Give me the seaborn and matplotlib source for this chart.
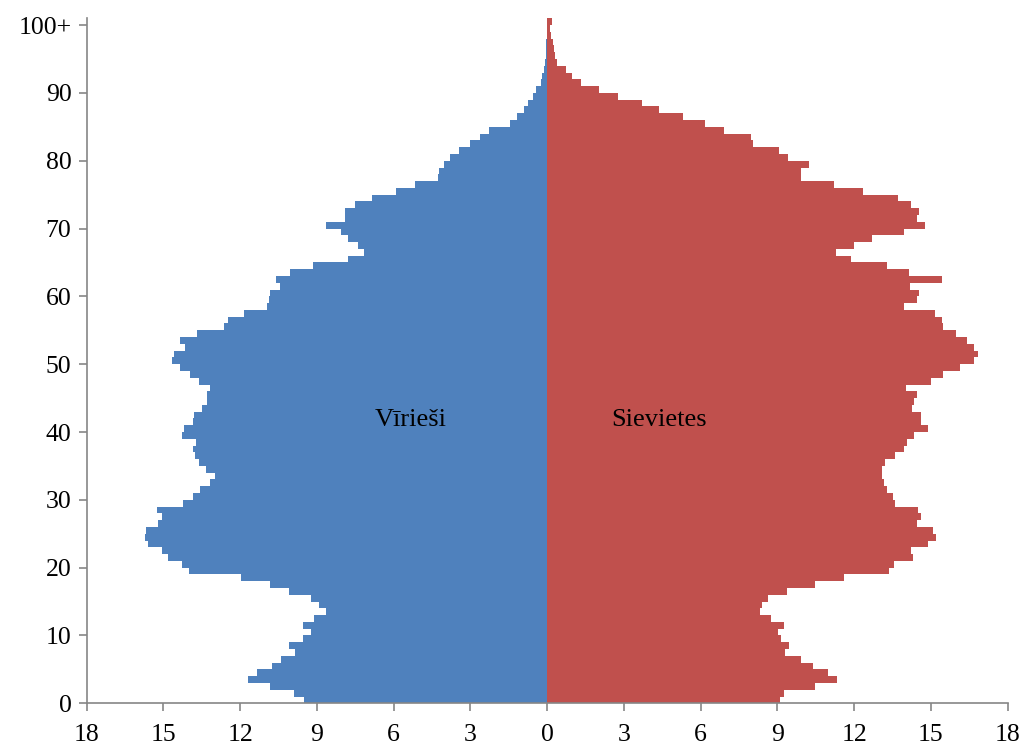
# IMPORT PACKAGES -----------------------------------------------------------------
import pandas as pd
import seaborn as sns
import matplotlib.pyplot as plt

# DATA ----------------------------------------------------------------------------
# age groups 0 .. 100+ (one bar per year of age)
ages = list(range(101))

# men (left side)
males = [9.52, 9.91, 10.83, 11.71, 11.35, 10.76, 10.40, 9.87, 10.08, 9.55,
         9.22, 9.53, 9.13, 8.65, 8.93, 9.23, 10.08, 10.85, 11.96, 13.99,
         14.28, 14.84, 15.06, 15.59, 15.72, 15.68, 15.20, 15.06, 15.26, 14.22,
         13.83, 13.56, 13.17, 13.00, 13.33, 13.63, 13.76, 13.85, 13.73, 14.26,
         14.18, 13.83, 13.79, 13.50, 13.30, 13.30, 13.20, 13.60, 13.96, 14.35,
         14.67, 14.60, 14.14, 14.35, 13.69, 12.62, 12.48, 11.87, 10.96, 10.89,
         10.82, 10.46, 10.59, 10.07, 9.16, 7.79, 7.16, 7.41, 7.79, 8.06,
         8.63, 7.92, 7.89, 7.50, 6.85, 5.92, 5.18, 4.27, 4.22, 4.04,
         3.81, 3.46, 3.00, 2.61, 2.26, 1.46, 1.20, 0.91, 0.74, 0.55,
         0.43, 0.26, 0.20, 0.13, 0.09, 0.05, 0.04, 0.03, 0.02, 0.01,
         0.01]

# women (right side)
females = [9.09, 9.26, 10.46, 11.31, 10.98, 10.39, 9.91, 9.28, 9.47, 9.15,
           9.02, 9.26, 8.74, 8.31, 8.41, 8.63, 9.39, 10.46, 11.60, 13.35,
           13.54, 14.28, 14.21, 14.87, 15.19, 15.10, 14.44, 14.60, 14.48, 13.59,
           13.50, 13.30, 13.17, 13.10, 13.10, 13.21, 13.60, 13.93, 14.08, 14.32,
           14.90, 14.60, 14.60, 14.25, 14.32, 14.45, 14.02, 15.02, 15.49, 16.13,
           16.69, 16.82, 16.69, 16.39, 15.99, 15.49, 15.45, 15.15, 13.93, 14.45,
           14.54, 14.20, 15.43, 14.14, 13.27, 11.89, 11.28, 12.00, 12.69, 13.95,
           14.75, 14.45, 14.55, 14.21, 13.73, 12.36, 11.21, 9.94, 9.94, 10.25,
           9.43, 9.08, 8.03, 7.97, 6.92, 6.17, 5.32, 4.37, 3.72, 2.76,
           2.03, 1.32, 0.95, 0.75, 0.39, 0.31, 0.27, 0.23, 0.14, 0.10,
           0.17]

x_ticks = [-18, -15, -12, -9, -6, -3, 0, 3, 6, 9, 12, 15, 18]
x_tick_labels = ["18", "15", "12", "9", "6", "3", "0", "3", "6", "9", "12", "15", "18"]
y_ticks = [0, 10, 20, 30, 40, 50, 60, 70, 80, 90, 100]
y_tick_labels = ["0", "10", "20", "30", "40", "50", "60", "70", "80", "90", "100+"]

# long table for seaborn: men negative, women positive
# each bar covers [age, age + 1] on the vertical axis
men = pd.DataFrame({"pos": [a + 0.5 for a in ages],
                    "value": [-v for v in males],
                    "sex": "Vīrieši"})
women = pd.DataFrame({"pos": [a + 0.5 for a in ages],
                      "value": females,
                      "sex": "Sievietes"})
pyramid = pd.concat([men, women], ignore_index=True)

# PLOT ----------------------------------------------------------------------------
sns.set_style("ticks")
plt.rcParams['font.family'] = ['Liberation Serif', 'DejaVu Serif']

fig = plt.figure(figsize=(10.19, 7.47), dpi=100)
ax = fig.add_axes([0.0851, 0.0585, 0.9038, 0.917])

sns.barplot(data=pyramid, x="value", y="pos", hue="sex", orient="h",
            native_scale=True, width=1, dodge=False, errorbar=None,
            palette={"Vīrieši": "#4F81BD", "Sievietes": "#C0504D"},
            saturation=1, linewidth=0, legend=False, ax=ax)

ax.set_xlim(-18, 18)
ax.set_ylim(0, 101)
ax.set_xticks(x_ticks)
ax.set_xticklabels(x_tick_labels)
ax.set_yticks(y_ticks)
ax.set_yticklabels(y_tick_labels)
ax.set_xlabel("")
ax.set_ylabel("")

grey = "#868686"
ax.tick_params(axis="both", direction="out", length=6, width=1.2,
               color=grey, labelsize=18.5, labelcolor="black")
ax.tick_params(axis="x", pad=9)
ax.tick_params(axis="y", pad=5)
for side in ["top", "right"]:
    ax.spines[side].set_visible(False)
for side in ["left", "bottom"]:
    ax.spines[side].set_color(grey)
    ax.spines[side].set_linewidth(1.2)

ax.text(-5.35, 41.8, "Vīrieši", ha="center", va="center", fontsize=19, color="black")
ax.text(4.36, 41.8, "Sievietes", ha="center", va="center", fontsize=19, color="black")

fig.savefig("out.png", dpi=100)
